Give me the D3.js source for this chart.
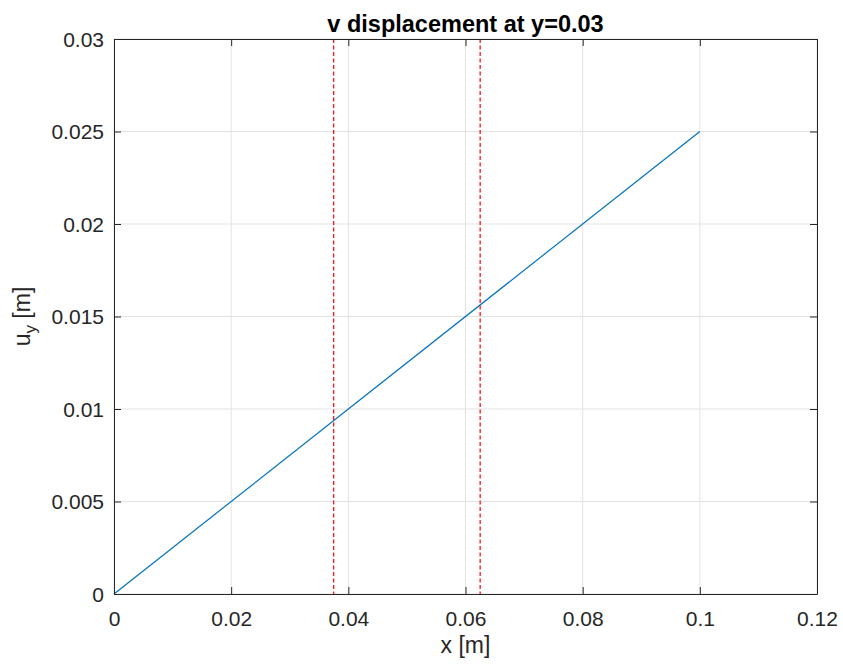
<!DOCTYPE html>
<html>
<head>
<meta charset="utf-8">
<script src="https://cdn.jsdelivr.net/npm/d3@7"></script>
<style>
  body { margin: 0; background: #fff; }
  svg text { font-family: Arial, "Liberation Sans", Helvetica, sans-serif; fill: #262626; }
</style>
</head>
<body>
<div id="chart"></div>
<script>
// ---------------- data ----------------
var lineX = [0, 0.1];
var lineY = [0, 0.025];
var markerX = [0.0375, 0.0625];
var xTicks = [0, 0.02, 0.04, 0.06, 0.08, 0.1, 0.12];
var yTicks = [0, 0.005, 0.01, 0.015, 0.02, 0.025, 0.03];
var xTickLabels = ["0", "0.02", "0.04", "0.06", "0.08", "0.1", "0.12"];
var yTickLabels = ["0", "0.005", "0.01", "0.015", "0.02", "0.025", "0.03"];

// ---------------- layout ----------------
var W = 843, H = 664;
var margin = {top: 39, right: 26, bottom: 70, left: 114};
var width = W - margin.left - margin.right;
var height = H - margin.top - margin.bottom;

var svg = d3.select("#chart").append("svg")
  .attr("width", W)
  .attr("height", H);

var g = svg.append("g")
  .attr("transform", "translate(" + margin.left + "," + margin.top + ")");

var x = d3.scaleLinear().domain([0, 0.12]).range([0, width]);
var y = d3.scaleLinear().domain([0, 0.03]).range([height, 0]);

// grid
g.append("g").selectAll("line.gx")
  .data(xTicks).enter().append("line")
  .attr("x1", function(d){ return x(d); })
  .attr("x2", function(d){ return x(d); })
  .attr("y1", 0).attr("y2", height)
  .attr("stroke", "#e3e3e3").attr("stroke-width", 1);

g.append("g").selectAll("line.gy")
  .data(yTicks).enter().append("line")
  .attr("y1", function(d){ return y(d); })
  .attr("y2", function(d){ return y(d); })
  .attr("x1", 0).attr("x2", width)
  .attr("stroke", "#e3e3e3").attr("stroke-width", 1);

// data line
var line = d3.line()
  .x(function(d){ return x(d[0]); })
  .y(function(d){ return y(d[1]); });

g.append("path")
  .datum(d3.zip(lineX, lineY))
  .attr("d", line)
  .attr("fill", "none")
  .attr("stroke", "#0072BD")
  .attr("stroke-width", 1.2);

// red dashed markers
g.append("g").selectAll("line.mk")
  .data(markerX).enter().append("line")
  .attr("x1", function(d){ return x(d); })
  .attr("x2", function(d){ return x(d); })
  .attr("y1", 0).attr("y2", height)
  .attr("stroke", "#ff0000")
  .attr("stroke-width", 1.2)
  .attr("stroke-dasharray", "4,2.5");

// axes (MATLAB style: ticks pointing inward, box)
var xAxis = d3.axisBottom(x).tickValues(xTicks)
  .tickFormat(function(d, i){ return xTickLabels[i]; })
  .tickSizeInner(-7).tickSizeOuter(0);
var yAxis = d3.axisLeft(y).tickValues(yTicks)
  .tickFormat(function(d, i){ return yTickLabels[i]; })
  .tickSizeInner(-7).tickSizeOuter(0);

var xa = g.append("g").attr("transform", "translate(0," + height + ")").call(xAxis);
var ya = g.append("g").call(yAxis);
var xTop = g.append("g").call(d3.axisTop(x).tickValues(xTicks).tickFormat("").tickSizeInner(-7).tickSizeOuter(0));
var yRight = g.append("g").attr("transform", "translate(" + width + ",0)")
  .call(d3.axisRight(y).tickValues(yTicks).tickFormat("").tickSizeInner(-7).tickSizeOuter(0));

[xa, ya, xTop, yRight].forEach(function(a){
  a.selectAll("path.domain").attr("stroke", "#262626").attr("stroke-width", 1);
  a.selectAll(".tick line").attr("stroke", "#262626").attr("stroke-width", 1);
  a.selectAll("text").attr("font-size", "21px").attr("fill", "#262626")
    .attr("font-family", "Arial, 'Liberation Sans', sans-serif");
});
ya.selectAll("text").attr("x", -10).attr("dy", "0.35em");
xa.selectAll("text").attr("y", 32).attr("dy", null);

// title
svg.append("text")
  .attr("x", margin.left + width / 2)
  .attr("y", 32)
  .attr("text-anchor", "middle")
  .attr("font-size", "23.5px")
  .attr("font-weight", "bold")
  .style("fill", "#000")
  .text("v displacement at y=0.03");

// x label
svg.append("text")
  .attr("x", margin.left + width / 2)
  .attr("y", 653)
  .attr("text-anchor", "middle")
  .attr("font-size", "23px")
  .text("x [m]");

// y label with subscript
var yl = svg.append("text")
  .attr("transform", "translate(30," + (margin.top + height / 2) + ") rotate(-90)")
  .attr("text-anchor", "middle")
  .attr("font-size", "23px");
yl.append("tspan").text("u");
yl.append("tspan").attr("font-size", "17px").attr("dy", "6").text("y");
yl.append("tspan").attr("dy", "-6").text(" [m]");
</script>
</body>
</html>
